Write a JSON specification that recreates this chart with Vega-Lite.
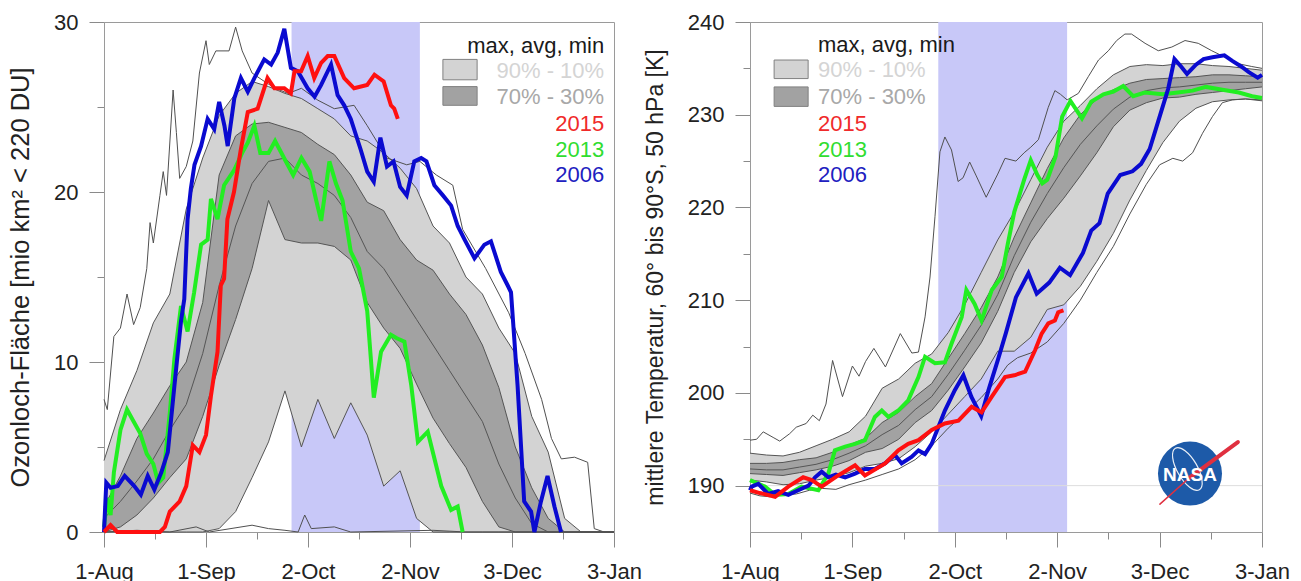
{
"$schema": "https://vega.github.io/schema/vega-lite/v6.json",
"background": "white",
"padding": {"left": 8, "top": 10, "right": 5, "bottom": 5},
"spacing": 0,
"config": {
  "font": "Liberation Sans",
  "view": {"stroke": "#9a9a9a", "strokeWidth": 1},
  "axis": {"domainColor": "#9a9a9a", "tickColor": "#8a8a8a", "labelColor": "#222222", "titleColor": "#222222", "labelFontSize": 22, "titleFontSize": 23, "titleFontWeight": "normal", "labelFont": "Liberation Sans", "titleFont": "Liberation Sans", "grid": false, "labelOverlap": false, "labelFlush": false}
},
"datasets": {
"ozBands": [
{"day":0,"p90":4.2,"p70":1.5,"avg":0.8,"p30":0,"p10":0},
{"day":5,"p90":7.2,"p70":3.3,"avg":1.8,"p30":0.3,"p10":0},
{"day":10,"p90":9.5,"p70":5.5,"avg":3.0,"p30":1.0,"p10":0},
{"day":15,"p90":12.3,"p70":7.0,"avg":4.3,"p30":2.0,"p10":0},
{"day":20,"p90":14.0,"p70":8.6,"avg":6.0,"p30":3.2,"p10":0},
{"day":25,"p90":19.0,"p70":10.0,"avg":7.5,"p30":4.3,"p10":0},
{"day":30,"p90":22.0,"p70":13.5,"avg":10.5,"p30":6.8,"p10":0},
{"day":35,"p90":24.5,"p70":21.0,"avg":14.5,"p30":9.8,"p10":0.2},
{"day":40,"p90":25.8,"p70":23.3,"avg":18.0,"p30":12.5,"p10":1.2},
{"day":45,"p90":26.5,"p70":24.0,"avg":20.5,"p30":15.5,"p10":3.2},
{"day":50,"p90":26.2,"p70":24.1,"avg":21.8,"p30":19.5,"p10":5.3},
{"day":55,"p90":25.8,"p70":23.8,"avg":22.0,"p30":17.2,"p10":8.3},
{"day":60,"p90":25.5,"p70":23.5,"avg":21.0,"p30":17.0,"p10":5.0},
{"day":65,"p90":24.9,"p70":22.8,"avg":20.5,"p30":17.0,"p10":7.8},
{"day":70,"p90":24.3,"p70":22.2,"avg":19.8,"p30":16.8,"p10":5.5},
{"day":75,"p90":23.3,"p70":21.0,"avg":18.5,"p30":16.0,"p10":7.6},
{"day":80,"p90":23.0,"p70":19.4,"avg":16.5,"p30":13.5,"p10":5.7},
{"day":85,"p90":22.3,"p70":18.9,"avg":15.5,"p30":12.0,"p10":2.7},
{"day":90,"p90":21.4,"p70":17.2,"avg":14.0,"p30":10.8,"p10":3.6},
{"day":95,"p90":20.2,"p70":16.0,"avg":12.5,"p30":8.7,"p10":0.8},
{"day":100,"p90":18.0,"p70":15.4,"avg":11.0,"p30":6.7,"p10":0},
{"day":105,"p90":17.0,"p70":14.0,"avg":9.5,"p30":5.2,"p10":0},
{"day":110,"p90":15.0,"p70":12.8,"avg":8.0,"p30":3.8,"p10":0},
{"day":115,"p90":14.0,"p70":11.0,"avg":6.5,"p30":1.8,"p10":0},
{"day":120,"p90":12.0,"p70":8.5,"avg":4.0,"p30":0.3,"p10":0},
{"day":125,"p90":10.5,"p70":5.0,"avg":2.0,"p30":0,"p10":0},
{"day":130,"p90":6.8,"p70":2.6,"avg":0.5,"p30":0,"p10":0},
{"day":135,"p90":4.7,"p70":0.8,"avg":0,"p30":0,"p10":0},
{"day":140,"p90":0.8,"p70":0,"avg":0,"p30":0,"p10":0},
{"day":145,"p90":0,"p70":0,"avg":0,"p30":0,"p10":0},
{"day":150,"p90":0,"p70":0,"avg":0,"p30":0,"p10":0},
{"day":155,"p90":0,"p70":0,"avg":0,"p30":0,"p10":0}
],
"ozLines": [
{"series":"max","day":0,"value":7.8},{"series":"max","day":1,"value":7.2},{"series":"max","day":3,"value":11.5},{"series":"max","day":5,"value":12},{"series":"max","day":7,"value":14},{"series":"max","day":9,"value":12.2},{"series":"max","day":11,"value":13.2},{"series":"max","day":13,"value":15.5},{"series":"max","day":14,"value":18.2},{"series":"max","day":15,"value":17},{"series":"max","day":17,"value":19.8},{"series":"max","day":18,"value":21.2},{"series":"max","day":19,"value":19.8},{"series":"max","day":21,"value":26},{"series":"max","day":22,"value":23.5},{"series":"max","day":23,"value":20.8},{"series":"max","day":25,"value":21.5},{"series":"max","day":27,"value":23},{"series":"max","day":29,"value":27},{"series":"max","day":31,"value":28.9},{"series":"max","day":32,"value":27.5},{"series":"max","day":34,"value":28.3},{"series":"max","day":38,"value":28.3},{"series":"max","day":40,"value":29.7},{"series":"max","day":42,"value":28.3},{"series":"max","day":45,"value":27},{"series":"max","day":48,"value":26.6},{"series":"max","day":52,"value":26.1},{"series":"max","day":56,"value":25.8},{"series":"max","day":60,"value":26.1},{"series":"max","day":65,"value":25.4},{"series":"max","day":70,"value":24.9},{"series":"max","day":76,"value":25.1},{"series":"max","day":80,"value":23.9},{"series":"max","day":86,"value":22},{"series":"max","day":92,"value":21.6},{"series":"max","day":96,"value":21.8},{"series":"max","day":101,"value":21},{"series":"max","day":106,"value":20.4},{"series":"max","day":109,"value":17.8},{"series":"max","day":116,"value":15.5},{"series":"max","day":123,"value":12.9},{"series":"max","day":128,"value":10.5},{"series":"max","day":133,"value":7.8},{"series":"max","day":136,"value":5.5},{"series":"max","day":139,"value":4.3},{"series":"max","day":143,"value":4.4},{"series":"max","day":147,"value":4.1},{"series":"max","day":149,"value":0.2},{"series":"max","day":152,"value":0},{"series":"max","day":155,"value":0},
{"series":"min","day":0,"value":0},{"series":"min","day":10,"value":0.1},{"series":"min","day":20,"value":0},{"series":"min","day":28,"value":0.3},{"series":"min","day":32,"value":0},{"series":"min","day":45,"value":0.4},{"series":"min","day":50,"value":0.2},{"series":"min","day":55,"value":0.1},{"series":"min","day":59,"value":0},{"series":"min","day":61,"value":1.0},{"series":"min","day":63,"value":0.2},{"series":"min","day":70,"value":0.3},{"series":"min","day":75,"value":0},{"series":"min","day":100,"value":0.1},{"series":"min","day":110,"value":0},{"series":"min","day":155,"value":0},
{"series":"2015","day":0,"value":0},{"series":"2015","day":2,"value":0.4},{"series":"2015","day":4,"value":0},{"series":"2015","day":17,"value":0},{"series":"2015","day":18.5,"value":0.3},{"series":"2015","day":20,"value":1.2},{"series":"2015","day":23,"value":1.8},{"series":"2015","day":25,"value":2.7},{"series":"2015","day":27,"value":5.1},{"series":"2015","day":29,"value":4.7},{"series":"2015","day":31,"value":5.7},{"series":"2015","day":32.5,"value":8},{"series":"2015","day":34.5,"value":10.6},{"series":"2015","day":35.5,"value":14.5},{"series":"2015","day":36.5,"value":14.9},{"series":"2015","day":37.5,"value":18.4},{"series":"2015","day":39.5,"value":20},{"series":"2015","day":41.5,"value":22.4},{"series":"2015","day":43.7,"value":24.7},{"series":"2015","day":46.7,"value":24.9},{"series":"2015","day":49.7,"value":26.7},{"series":"2015","day":51.8,"value":26.1},{"series":"2015","day":54.8,"value":26.1},{"series":"2015","day":56.8,"value":25.8},{"series":"2015","day":57.9,"value":27.1},{"series":"2015","day":59.9,"value":27.1},{"series":"2015","day":61.9,"value":28},{"series":"2015","day":63.9,"value":26.7},{"series":"2015","day":66,"value":27.6},{"series":"2015","day":68,"value":28},{"series":"2015","day":70,"value":28},{"series":"2015","day":73,"value":26.7},{"series":"2015","day":76,"value":26.1},{"series":"2015","day":80,"value":26.3},{"series":"2015","day":82.2,"value":26.9},{"series":"2015","day":85,"value":26.5},{"series":"2015","day":87.2,"value":25.1},{"series":"2015","day":88.2,"value":24.9},{"series":"2015","day":89.3,"value":24.3},
{"series":"2013","day":0,"value":0.3},{"series":"2013","day":1,"value":2},{"series":"2013","day":2,"value":1},{"series":"2013","day":3,"value":3.5},{"series":"2013","day":5,"value":6},{"series":"2013","day":7,"value":7.2},{"series":"2013","day":9,"value":6.5},{"series":"2013","day":11,"value":5.8},{"series":"2013","day":13,"value":4.6},{"series":"2013","day":15,"value":4},{"series":"2013","day":16.5,"value":2.9},{"series":"2013","day":18,"value":3.2},{"series":"2013","day":20,"value":7},{"series":"2013","day":21.4,"value":10.2},{"series":"2013","day":23.4,"value":13.3},{"series":"2013","day":25.4,"value":11.8},{"series":"2013","day":27.4,"value":14.1},{"series":"2013","day":29.5,"value":16.9},{"series":"2013","day":31.5,"value":17.2},{"series":"2013","day":32.5,"value":19.6},{"series":"2013","day":34.5,"value":18.4},{"series":"2013","day":36.5,"value":20.4},{"series":"2013","day":39.6,"value":21.3},{"series":"2013","day":42,"value":22.3},{"series":"2013","day":43.7,"value":22.9},{"series":"2013","day":45.7,"value":23.9},{"series":"2013","day":47.5,"value":22.3},{"series":"2013","day":50,"value":22.3},{"series":"2013","day":52,"value":23},{"series":"2013","day":55,"value":21.9},{"series":"2013","day":57.5,"value":21},{"series":"2013","day":60,"value":22},{"series":"2013","day":62.5,"value":21.2},{"series":"2013","day":64.5,"value":19.5},{"series":"2013","day":66,"value":18.3},{"series":"2013","day":68.5,"value":21.8},{"series":"2013","day":70.5,"value":20.5},{"series":"2013","day":72.5,"value":19.5},{"series":"2013","day":75,"value":16.5},{"series":"2013","day":77.5,"value":15.5},{"series":"2013","day":80,"value":13},{"series":"2013","day":82,"value":7.9},{"series":"2013","day":84.2,"value":10.6},{"series":"2013","day":87.2,"value":11.6},{"series":"2013","day":89,"value":11.4},{"series":"2013","day":91.3,"value":11.2},{"series":"2013","day":93.4,"value":8.6},{"series":"2013","day":95.4,"value":5.3},{"series":"2013","day":98.4,"value":5.9},{"series":"2013","day":102.5,"value":2.7},{"series":"2013","day":105.5,"value":1.3},{"series":"2013","day":107.5,"value":1.5},{"series":"2013","day":109,"value":0},
{"series":"2006","day":0,"value":0},{"series":"2006","day":0.7,"value":2.9},{"series":"2006","day":2,"value":2.6},{"series":"2006","day":4.2,"value":2.7},{"series":"2006","day":6.3,"value":3.3},{"series":"2006","day":9.2,"value":2.7},{"series":"2006","day":11.2,"value":2.2},{"series":"2006","day":13.3,"value":3.3},{"series":"2006","day":15.3,"value":2.5},{"series":"2006","day":17.4,"value":3.5},{"series":"2006","day":19.4,"value":4.7},{"series":"2006","day":21.4,"value":8.6},{"series":"2006","day":23.4,"value":12.4},{"series":"2006","day":24.4,"value":13.7},{"series":"2006","day":25.4,"value":18.4},{"series":"2006","day":26.4,"value":20.2},{"series":"2006","day":27.5,"value":21.6},{"series":"2006","day":29.5,"value":22.7},{"series":"2006","day":31.5,"value":24.3},{"series":"2006","day":33.5,"value":23.7},{"series":"2006","day":35,"value":25.3},{"series":"2006","day":36.6,"value":23.9},{"series":"2006","day":37.6,"value":22.7},{"series":"2006","day":39.6,"value":25.5},{"series":"2006","day":41.6,"value":26.7},{"series":"2006","day":43.7,"value":25.9},{"series":"2006","day":45.7,"value":26.7},{"series":"2006","day":48.7,"value":27.8},{"series":"2006","day":50.8,"value":27.5},{"series":"2006","day":52.8,"value":28.2},{"series":"2006","day":54.8,"value":29.6},{"series":"2006","day":56.8,"value":27.3},{"series":"2006","day":58.9,"value":27.1},{"series":"2006","day":61.9,"value":26.1},{"series":"2006","day":64,"value":25.6},{"series":"2006","day":66,"value":26.3},{"series":"2006","day":69,"value":27.5},{"series":"2006","day":71,"value":25.7},{"series":"2006","day":73,"value":25.1},{"series":"2006","day":75,"value":24.3},{"series":"2006","day":78,"value":22.5},{"series":"2006","day":80,"value":21.2},{"series":"2006","day":82,"value":20.6},{"series":"2006","day":84,"value":23.2},{"series":"2006","day":86,"value":21.5},{"series":"2006","day":88,"value":21.8},{"series":"2006","day":90,"value":20.3},{"series":"2006","day":92,"value":19.8},{"series":"2006","day":94.3,"value":21.8},{"series":"2006","day":96.4,"value":22},{"series":"2006","day":98,"value":21.8},{"series":"2006","day":100.4,"value":20.4},{"series":"2006","day":103,"value":19.8},{"series":"2006","day":105.5,"value":19.2},{"series":"2006","day":107.5,"value":18},{"series":"2006","day":109.6,"value":17.2},{"series":"2006","day":112.6,"value":16.1},{"series":"2006","day":115.6,"value":16.9},{"series":"2006","day":117.6,"value":17.1},{"series":"2006","day":120.6,"value":15.3},{"series":"2006","day":122.7,"value":14.5},{"series":"2006","day":123.7,"value":14.1},{"series":"2006","day":125.7,"value":8.6},{"series":"2006","day":127.7,"value":1.8},{"series":"2006","day":129.8,"value":1.2},{"series":"2006","day":130.8,"value":0},{"series":"2006","day":132.8,"value":1.8},{"series":"2006","day":134.8,"value":3.3},{"series":"2006","day":136.9,"value":1.5},{"series":"2006","day":138.9,"value":0}
],
"tBands": [
{"day":0,"p90":193.5,"p70":192.4,"avg":191.8,"p30":191.3,"p10":190.6},
{"day":5,"p90":193.3,"p70":192.4,"avg":191.7,"p30":191.2,"p10":190.4},
{"day":10,"p90":193.2,"p70":192.5,"avg":191.7,"p30":191.1,"p10":190.1},
{"day":15,"p90":193.6,"p70":192.8,"avg":192.0,"p30":191.4,"p10":190.2},
{"day":20,"p90":194.3,"p70":193.0,"avg":192.3,"p30":191.7,"p10":190.6},
{"day":25,"p90":195.0,"p70":193.6,"avg":192.8,"p30":192.1,"p10":190.9},
{"day":30,"p90":195.8,"p70":194.4,"avg":193.5,"p30":192.7,"p10":191.4},
{"day":35,"p90":197.5,"p70":195.1,"avg":194.3,"p30":193.6,"p10":192.1},
{"day":40,"p90":200.5,"p70":196.8,"avg":195.5,"p30":194.0,"p10":192.4},
{"day":45,"p90":201.5,"p70":197.9,"avg":196.5,"p30":195.0,"p10":192.9},
{"day":50,"p90":203.2,"p70":199.6,"avg":198.2,"p30":196.8,"p10":194.2},
{"day":55,"p90":204.2,"p70":201.0,"avg":199.6,"p30":198.1,"p10":195.8},
{"day":60,"p90":206.5,"p70":203.7,"avg":202.0,"p30":200.3,"p10":197.7},
{"day":65,"p90":209.5,"p70":206.4,"avg":204.6,"p30":202.8,"p10":199.6},
{"day":70,"p90":213.0,"p70":209.2,"avg":207.3,"p30":205.4,"p10":201.5},
{"day":75,"p90":216.5,"p70":212.5,"avg":210.6,"p30":208.8,"p10":204.5},
{"day":80,"p90":219.5,"p70":216.8,"avg":214.8,"p30":213.0,"p10":204.5},
{"day":85,"p90":223.0,"p70":220.5,"avg":218.4,"p30":216.3,"p10":206.0},
{"day":90,"p90":226.5,"p70":224.2,"avg":221.5,"p30":218.8,"p10":209.0},
{"day":95,"p90":229.3,"p70":227.5,"avg":224.3,"p30":221.0,"p10":209.5},
{"day":100,"p90":231.0,"p70":230.0,"avg":226.8,"p30":223.4,"p10":211.5},
{"day":105,"p90":232.8,"p70":231.7,"avg":228.8,"p30":225.9,"p10":214.2},
{"day":110,"p90":234.3,"p70":232.7,"avg":230.6,"p30":228.7,"p10":217.2},
{"day":115,"p90":235.2,"p70":233.4,"avg":231.9,"p30":230.5,"p10":220.8},
{"day":120,"p90":235.4,"p70":233.8,"avg":232.6,"p30":231.3,"p10":224.0},
{"day":125,"p90":235.3,"p70":233.9,"avg":232.9,"p30":231.8,"p10":227.0},
{"day":130,"p90":235.5,"p70":234.0,"avg":233.0,"p30":231.9,"p10":229.3},
{"day":135,"p90":235.5,"p70":234.1,"avg":233.2,"p30":232.2,"p10":230.7},
{"day":140,"p90":235.3,"p70":234.3,"avg":233.4,"p30":232.4,"p10":231.4},
{"day":145,"p90":235.2,"p70":234.3,"avg":233.5,"p30":232.6,"p10":231.6},
{"day":150,"p90":235.0,"p70":234.2,"avg":233.5,"p30":232.8,"p10":231.7},
{"day":155,"p90":234.8,"p70":234.1,"avg":233.5,"p30":233.0,"p10":231.6}
],
"tLines": [
{"series":"max","day":0,"value":194.9},{"series":"max","day":2,"value":195},{"series":"max","day":4,"value":195.8},{"series":"max","day":7,"value":195.2},{"series":"max","day":9,"value":194.8},{"series":"max","day":12,"value":195.6},{"series":"max","day":14,"value":196.3},{"series":"max","day":17,"value":196.7},{"series":"max","day":19,"value":197.6},{"series":"max","day":21,"value":197},{"series":"max","day":23,"value":198.8},{"series":"max","day":25,"value":203.5},{"series":"max","day":28,"value":199.6},{"series":"max","day":31,"value":202.9},{"series":"max","day":33,"value":201.8},{"series":"max","day":35,"value":203.4},{"series":"max","day":37.5,"value":204.8},{"series":"max","day":41,"value":202.8},{"series":"max","day":45.5,"value":206.4},{"series":"max","day":49,"value":204.3},{"series":"max","day":51,"value":204.4},{"series":"max","day":53,"value":208.2},{"series":"max","day":54.5,"value":212.5},{"series":"max","day":56,"value":219},{"series":"max","day":57.5,"value":226},{"series":"max","day":59,"value":227.6},{"series":"max","day":61,"value":226.2},{"series":"max","day":63,"value":222.8},{"series":"max","day":64.5,"value":223.2},{"series":"max","day":66.5,"value":224.9},{"series":"max","day":68.5,"value":223.4},{"series":"max","day":71.5,"value":221.1},{"series":"max","day":75,"value":223.6},{"series":"max","day":77.2,"value":225.3},{"series":"max","day":80.5,"value":225},{"series":"max","day":83,"value":225.9},{"series":"max","day":85,"value":226.5},{"series":"max","day":87.3,"value":227.3},{"series":"max","day":90.3,"value":230.8},{"series":"max","day":92.3,"value":232.6},{"series":"max","day":94,"value":232.2},{"series":"max","day":96,"value":231.6},{"series":"max","day":99.4,"value":232.3},{"series":"max","day":102.4,"value":234.1},{"series":"max","day":105.5,"value":235.9},{"series":"max","day":108.5,"value":236.9},{"series":"max","day":111,"value":238},{"series":"max","day":113.5,"value":238.7},{"series":"max","day":115.5,"value":238.7},{"series":"max","day":119.6,"value":237.7},{"series":"max","day":123.6,"value":236.9},{"series":"max","day":127.7,"value":237.3},{"series":"max","day":131.7,"value":238},{"series":"max","day":135.7,"value":237.7},{"series":"max","day":139.8,"value":236.9},{"series":"max","day":143.8,"value":236.2},{"series":"max","day":147.8,"value":235.5},{"series":"max","day":151.9,"value":235.2},{"series":"max","day":155,"value":235},
{"series":"min","day":0,"value":189.2},{"series":"min","day":3,"value":188.9},{"series":"min","day":6,"value":188.8},{"series":"min","day":10,"value":189},{"series":"min","day":14,"value":189.1},{"series":"min","day":18,"value":189.5},{"series":"min","day":22,"value":189.7},{"series":"min","day":26,"value":189.6},{"series":"min","day":30,"value":190.1},{"series":"min","day":35,"value":190.6},{"series":"min","day":40,"value":191.2},{"series":"min","day":45,"value":191.8},{"series":"min","day":50,"value":192.8},{"series":"min","day":55,"value":194.3},{"series":"min","day":60,"value":196.2},{"series":"min","day":65,"value":197.8},{"series":"min","day":70,"value":199.5},{"series":"min","day":75,"value":201.5},{"series":"min","day":78,"value":203},{"series":"min","day":81,"value":203.8},{"series":"min","day":85,"value":204.3},{"series":"min","day":90,"value":205.5},{"series":"min","day":95,"value":207.5},{"series":"min","day":100,"value":210},{"series":"min","day":105,"value":213},{"series":"min","day":110,"value":215.8},{"series":"min","day":115,"value":219.3},{"series":"min","day":120,"value":222.5},{"series":"min","day":124,"value":224.6},{"series":"min","day":128,"value":225.3},{"series":"min","day":131,"value":225},{"series":"min","day":134,"value":225.9},{"series":"min","day":137,"value":228},{"series":"min","day":140,"value":229.8},{"series":"min","day":143,"value":231.3},{"series":"min","day":146,"value":231.6},{"series":"min","day":150,"value":231.7},{"series":"min","day":155,"value":231.5},
{"series":"2015","day":0,"value":189.5},{"series":"2015","day":3,"value":189.2},{"series":"2015","day":7.6,"value":188.8},{"series":"2015","day":11.6,"value":189.9},{"series":"2015","day":16.1,"value":190.9},{"series":"2015","day":18.7,"value":190.6},{"series":"2015","day":21.7,"value":189.9},{"series":"2015","day":26.7,"value":191.1},{"series":"2015","day":31.8,"value":192.2},{"series":"2015","day":34.8,"value":191.1},{"series":"2015","day":40.9,"value":192.4},{"series":"2015","day":44.9,"value":193.8},{"series":"2015","day":47.9,"value":194.5},{"series":"2015","day":51,"value":194.9},{"series":"2015","day":55,"value":196},{"series":"2015","day":59,"value":196.7},{"series":"2015","day":63.1,"value":197},{"series":"2015","day":67.1,"value":198.5},{"series":"2015","day":70.1,"value":197.9},{"series":"2015","day":73.2,"value":199.6},{"series":"2015","day":77.2,"value":201.7},{"series":"2015","day":80,"value":201.9},{"series":"2015","day":83.3,"value":202.3},{"series":"2015","day":86.3,"value":204.6},{"series":"2015","day":88.3,"value":206.4},{"series":"2015","day":90.3,"value":207.5},{"series":"2015","day":92.3,"value":207.8},{"series":"2015","day":93.3,"value":208.7},{"series":"2015","day":94.9,"value":208.9},
{"series":"2013","day":0,"value":190.6},{"series":"2013","day":4.5,"value":189.9},{"series":"2013","day":7.6,"value":189},{"series":"2013","day":11.6,"value":189.1},{"series":"2013","day":15.6,"value":189.9},{"series":"2013","day":20.7,"value":189.5},{"series":"2013","day":23.7,"value":191.3},{"series":"2013","day":25.7,"value":193.8},{"series":"2013","day":28.8,"value":194.2},{"series":"2013","day":31.8,"value":194.5},{"series":"2013","day":34.8,"value":194.9},{"series":"2013","day":37.8,"value":197.4},{"series":"2013","day":39.9,"value":198.1},{"series":"2013","day":41.9,"value":197.4},{"series":"2013","day":44.9,"value":198.1},{"series":"2013","day":47.9,"value":199.2},{"series":"2013","day":51,"value":201.7},{"series":"2013","day":53,"value":203.9},{"series":"2013","day":56,"value":203.2},{"series":"2013","day":59,"value":203.3},{"series":"2013","day":61,"value":205.3},{"series":"2013","day":64.1,"value":208.2},{"series":"2013","day":65.5,"value":211.1},{"series":"2013","day":68,"value":209.6},{"series":"2013","day":70.1,"value":207.8},{"series":"2013","day":73.2,"value":211.1},{"series":"2013","day":76.2,"value":212.5},{"series":"2013","day":78,"value":216},{"series":"2013","day":80,"value":219.5},{"series":"2013","day":83,"value":223},{"series":"2013","day":85,"value":225.1},{"series":"2013","day":87,"value":223.5},{"series":"2013","day":88.5,"value":222.6},{"series":"2013","day":90,"value":223},{"series":"2013","day":92.5,"value":225.5},{"series":"2013","day":94.5,"value":229.8},{"series":"2013","day":97,"value":231.5},{"series":"2013","day":100.5,"value":229.6},{"series":"2013","day":103.3,"value":231.4},{"series":"2013","day":107,"value":232.2},{"series":"2013","day":110,"value":232.5},{"series":"2013","day":113,"value":233.1},{"series":"2013","day":116,"value":232},{"series":"2013","day":119.5,"value":232.4},{"series":"2013","day":125,"value":232.2},{"series":"2013","day":129.5,"value":232.4},{"series":"2013","day":134,"value":232.6},{"series":"2013","day":138,"value":233},{"series":"2013","day":143,"value":232.7},{"series":"2013","day":148,"value":232.4},{"series":"2013","day":152,"value":232},{"series":"2013","day":155,"value":231.8},
{"series":"2006","day":0,"value":189.5},{"series":"2006","day":0.5,"value":189.9},{"series":"2006","day":2.5,"value":190.2},{"series":"2006","day":5.5,"value":189.1},{"series":"2006","day":8.5,"value":189.4},{"series":"2006","day":11.6,"value":189},{"series":"2006","day":14.6,"value":189.5},{"series":"2006","day":17.7,"value":190},{"series":"2006","day":19.7,"value":190.9},{"series":"2006","day":21.7,"value":191.5},{"series":"2006","day":23.7,"value":190.9},{"series":"2006","day":26,"value":191.2},{"series":"2006","day":28.8,"value":190.9},{"series":"2006","day":31.8,"value":191.3},{"series":"2006","day":34.8,"value":191.8},{"series":"2006","day":37.8,"value":191.8},{"series":"2006","day":40.9,"value":192.4},{"series":"2006","day":43.9,"value":193.3},{"series":"2006","day":45.9,"value":192.4},{"series":"2006","day":48.9,"value":193.1},{"series":"2006","day":51,"value":193.8},{"series":"2006","day":53,"value":193.4},{"series":"2006","day":55,"value":194.5},{"series":"2006","day":57,"value":196.3},{"series":"2006","day":59,"value":198.1},{"series":"2006","day":62,"value":200.3},{"series":"2006","day":64.6,"value":201.9},{"series":"2006","day":67,"value":199.6},{"series":"2006","day":70,"value":197.5},{"series":"2006","day":72.2,"value":200.3},{"series":"2006","day":75,"value":203.5},{"series":"2006","day":77.5,"value":206.5},{"series":"2006","day":80.5,"value":210.3},{"series":"2006","day":84.3,"value":212.9},{"series":"2006","day":86.8,"value":210.7},{"series":"2006","day":90.6,"value":211.9},{"series":"2006","day":93.8,"value":213.5},{"series":"2006","day":96.9,"value":212.7},{"series":"2006","day":100.8,"value":215.1},{"series":"2006","day":103.3,"value":217.5},{"series":"2006","day":105.8,"value":218.3},{"series":"2006","day":108.3,"value":221.5},{"series":"2006","day":112.1,"value":223.5},{"series":"2006","day":115.8,"value":223.9},{"series":"2006","day":118.4,"value":224.7},{"series":"2006","day":121,"value":226.3},{"series":"2006","day":123.5,"value":229.2},{"series":"2006","day":126.6,"value":232.8},{"series":"2006","day":128.5,"value":236},{"series":"2006","day":130.5,"value":235.2},{"series":"2006","day":132.3,"value":234.4},{"series":"2006","day":135,"value":235.4},{"series":"2006","day":137.3,"value":236},{"series":"2006","day":140,"value":236.2},{"series":"2006","day":143.6,"value":236.4},{"series":"2006","day":146,"value":235.8},{"series":"2006","day":148.7,"value":235.2},{"series":"2006","day":151,"value":234.6},{"series":"2006","day":153.7,"value":234},{"series":"2006","day":155,"value":234.3}
]
},
"hconcat": [
{
 "width": 510, "height": 510,
 "layer": [
  {"data": {"values": [{}]}, "mark": {"type": "rect", "color": "#c8c8f8"}, "encoding": {"x": {"datum": 57, "type": "quantitative"}, "x2": {"datum": 96}, "y": {"datum": 0, "type": "quantitative"}, "y2": {"datum": 30}}},
  {"data": {"name": "ozBands"}, "mark": {"type": "area", "color": "#d3d3d3", "opacity": 1}, "encoding": {
    "x": {"field": "day", "type": "quantitative", "scale": {"domain": [0, 155], "nice": false, "zero": false},
     "axis": {"title": null, "values": [0, 15.5, 31, 46.5, 62, 77.5, 93, 108.5, 124, 139.5, 155],
       "labelExpr": "datum.value==0?'1-Aug':datum.value==31?'1-Sep':datum.value==62?'2-Oct':datum.value==93?'2-Nov':datum.value==124?'3-Dec':datum.value==155?'3-Jan':''",
       "tickSize": {"condition": {"test": "datum.value % 31 == 0", "value": 15}, "value": 7}, "labelPadding": 14}},
    "y": {"field": "p90", "type": "quantitative", "scale": {"domain": [0, 30], "nice": false, "zero": false},
     "axis": {"title": "Ozonloch-Fläche [mio km² < 220 DU]", "titleFontSize": 25.5, "values": [0, 5, 10, 15, 20, 25, 30],
       "labelExpr": "datum.value % 10 == 0 ? datum.label : ''",
       "tickSize": {"condition": {"test": "datum.value % 10 == 0", "value": 15}, "value": 7}, "labelPadding": 11, "titlePadding": 20}},
    "y2": {"field": "p10"}}},
  {"data": {"name": "ozBands"}, "mark": {"type": "area", "color": "#a2a2a2", "opacity": 1}, "encoding": {"x": {"field": "day", "type": "quantitative"}, "y": {"field": "p70", "type": "quantitative"}, "y2": {"field": "p30"}}},
  {"data": {"name": "ozBands"}, "transform": [{"fold": ["p90", "p70", "avg", "p30", "p10"], "as": ["series", "value"]}], "mark": {"type": "line", "color": "#555555", "strokeWidth": 1}, "encoding": {"x": {"field": "day", "type": "quantitative"}, "y": {"field": "value", "type": "quantitative"}, "detail": {"field": "series"}}},
  {"data": {"name": "ozLines"}, "transform": [{"filter": "datum.series=='max'||datum.series=='min'"}], "mark": {"type": "line", "color": "#505050", "strokeWidth": 1}, "encoding": {"x": {"field": "day", "type": "quantitative"}, "y": {"field": "value", "type": "quantitative"}, "detail": {"field": "series"}}},
  {"data": {"name": "ozLines"}, "transform": [{"filter": "datum.series=='2013'"}], "mark": {"type": "line", "color": "#22ee22", "strokeWidth": 4}, "encoding": {"x": {"field": "day", "type": "quantitative"}, "y": {"field": "value", "type": "quantitative"}}},
  {"data": {"name": "ozLines"}, "transform": [{"filter": "datum.series=='2006'"}], "mark": {"type": "line", "color": "#0a0ad0", "strokeWidth": 4}, "encoding": {"x": {"field": "day", "type": "quantitative"}, "y": {"field": "value", "type": "quantitative"}}},
  {"data": {"name": "ozLines"}, "transform": [{"filter": "datum.series=='2015'"}], "mark": {"type": "line", "color": "#ff1010", "strokeWidth": 4}, "encoding": {"x": {"field": "day", "type": "quantitative"}, "y": {"field": "value", "type": "quantitative"}}},
  {"data": {"values": [{}]}, "mark": {"type": "rect", "color": "#d3d3d3", "stroke": "#808080", "strokeWidth": 1}, "encoding": {"x": {"datum": 103, "type": "quantitative"}, "x2": {"datum": 113.4}, "y": {"datum": 27.8, "type": "quantitative"}, "y2": {"datum": 26.6}}},
  {"data": {"values": [{}]}, "mark": {"type": "rect", "color": "#a2a2a2", "stroke": "#808080", "strokeWidth": 1}, "encoding": {"x": {"datum": 103, "type": "quantitative"}, "x2": {"datum": 113.4}, "y": {"datum": 26.2, "type": "quantitative"}, "y2": {"datum": 25.1}}},
  {"data": {"values": [{}]}, "mark": {"type": "text", "text": "max, avg, min", "align": "right", "baseline": "middle", "fontSize": 22, "color": "#1a1a1a"}, "encoding": {"x": {"datum": 152, "type": "quantitative"}, "y": {"datum": 28.6, "type": "quantitative"}}},
  {"data": {"values": [{}]}, "mark": {"type": "text", "text": "90% - 10%", "align": "right", "baseline": "middle", "fontSize": 22, "color": "#d4d4d4"}, "encoding": {"x": {"datum": 152, "type": "quantitative"}, "y": {"datum": 27.1, "type": "quantitative"}}},
  {"data": {"values": [{}]}, "mark": {"type": "text", "text": "70% - 30%", "align": "right", "baseline": "middle", "fontSize": 22, "color": "#a8a8a8"}, "encoding": {"x": {"datum": 152, "type": "quantitative"}, "y": {"datum": 25.6, "type": "quantitative"}}},
  {"data": {"values": [{}]}, "mark": {"type": "text", "text": "2015", "align": "right", "baseline": "middle", "fontSize": 22, "color": "#f02a2a"}, "encoding": {"x": {"datum": 152, "type": "quantitative"}, "y": {"datum": 24.0, "type": "quantitative"}}},
  {"data": {"values": [{}]}, "mark": {"type": "text", "text": "2013", "align": "right", "baseline": "middle", "fontSize": 22, "color": "#30dd30"}, "encoding": {"x": {"datum": 152, "type": "quantitative"}, "y": {"datum": 22.5, "type": "quantitative"}}},
  {"data": {"values": [{}]}, "mark": {"type": "text", "text": "2006", "align": "right", "baseline": "middle", "fontSize": 22, "color": "#2020c0"}, "encoding": {"x": {"datum": 152, "type": "quantitative"}, "y": {"datum": 21.0, "type": "quantitative"}}}
 ]
},
{
 "width": 512, "height": 510,
 "layer": [
  {"data": {"values": [{}]}, "mark": {"type": "rect", "color": "#c8c8f8"}, "encoding": {"x": {"datum": 57, "type": "quantitative"}, "x2": {"datum": 96}, "y": {"datum": 185, "type": "quantitative"}, "y2": {"datum": 240}}},
  {"data": {"values": [{}]}, "mark": {"type": "rule", "color": "#dddddd", "strokeWidth": 1}, "encoding": {"x": {"datum": 0, "type": "quantitative"}, "x2": {"datum": 155}, "y": {"datum": 190, "type": "quantitative"}}},
  {"data": {"name": "tBands"}, "mark": {"type": "area", "color": "#d3d3d3", "opacity": 1}, "encoding": {
    "x": {"field": "day", "type": "quantitative", "scale": {"domain": [0, 155], "nice": false, "zero": false},
     "axis": {"title": null, "values": [0, 15.5, 31, 46.5, 62, 77.5, 93, 108.5, 124, 139.5, 155],
       "labelExpr": "datum.value==0?'1-Aug':datum.value==31?'1-Sep':datum.value==62?'2-Oct':datum.value==93?'2-Nov':datum.value==124?'3-Dec':datum.value==155?'3-Jan':''",
       "tickSize": {"condition": {"test": "datum.value % 31 == 0", "value": 15}, "value": 7}, "labelPadding": 14}},
    "y": {"field": "p90", "type": "quantitative", "scale": {"domain": [185, 240], "nice": false, "zero": false},
     "axis": {"title": "mittlere Temperatur, 60° bis 90°S, 50 hPa [K]", "values": [190, 195, 200, 205, 210, 215, 220, 225, 230, 235, 240],
       "labelExpr": "datum.value % 10 == 0 ? datum.label : ''",
       "tickSize": {"condition": {"test": "datum.value % 10 == 0", "value": 15}, "value": 7}, "labelPadding": 11, "titlePadding": 20}},
    "y2": {"field": "p10"}}},
  {"data": {"name": "tBands"}, "mark": {"type": "area", "color": "#a2a2a2", "opacity": 1}, "encoding": {"x": {"field": "day", "type": "quantitative"}, "y": {"field": "p70", "type": "quantitative"}, "y2": {"field": "p30"}}},
  {"data": {"name": "tBands"}, "transform": [{"fold": ["p90", "p70", "avg", "p30", "p10"], "as": ["series", "value"]}], "mark": {"type": "line", "color": "#555555", "strokeWidth": 1}, "encoding": {"x": {"field": "day", "type": "quantitative"}, "y": {"field": "value", "type": "quantitative"}, "detail": {"field": "series"}}},
  {"data": {"name": "tLines"}, "transform": [{"filter": "datum.series=='max'||datum.series=='min'"}], "mark": {"type": "line", "color": "#505050", "strokeWidth": 1}, "encoding": {"x": {"field": "day", "type": "quantitative"}, "y": {"field": "value", "type": "quantitative"}, "detail": {"field": "series"}}},
  {"data": {"name": "tLines"}, "transform": [{"filter": "datum.series=='2013'"}], "mark": {"type": "line", "color": "#22ee22", "strokeWidth": 4}, "encoding": {"x": {"field": "day", "type": "quantitative"}, "y": {"field": "value", "type": "quantitative"}}},
  {"data": {"name": "tLines"}, "transform": [{"filter": "datum.series=='2006'"}], "mark": {"type": "line", "color": "#0a0ad0", "strokeWidth": 4}, "encoding": {"x": {"field": "day", "type": "quantitative"}, "y": {"field": "value", "type": "quantitative"}}},
  {"data": {"name": "tLines"}, "transform": [{"filter": "datum.series=='2015'"}], "mark": {"type": "line", "color": "#ff1010", "strokeWidth": 4}, "encoding": {"x": {"field": "day", "type": "quantitative"}, "y": {"field": "value", "type": "quantitative"}}},
  {"data": {"values": [{}]}, "mark": {"type": "rect", "color": "#d3d3d3", "stroke": "#808080", "strokeWidth": 1}, "encoding": {"x": {"datum": 7.3, "type": "quantitative"}, "x2": {"datum": 17.6}, "y": {"datum": 235.9, "type": "quantitative"}, "y2": {"datum": 233.9}}},
  {"data": {"values": [{}]}, "mark": {"type": "rect", "color": "#a2a2a2", "stroke": "#808080", "strokeWidth": 1}, "encoding": {"x": {"datum": 7.3, "type": "quantitative"}, "x2": {"datum": 17.6}, "y": {"datum": 233.0, "type": "quantitative"}, "y2": {"datum": 230.9}}},
  {"data": {"values": [{}]}, "mark": {"type": "text", "text": "max, avg, min", "align": "left", "baseline": "middle", "fontSize": 22, "color": "#1a1a1a"}, "encoding": {"x": {"datum": 20.6, "type": "quantitative"}, "y": {"datum": 237.5, "type": "quantitative"}}},
  {"data": {"values": [{}]}, "mark": {"type": "text", "text": "90% - 10%", "align": "left", "baseline": "middle", "fontSize": 22, "color": "#d4d4d4"}, "encoding": {"x": {"datum": 20.6, "type": "quantitative"}, "y": {"datum": 234.8, "type": "quantitative"}}},
  {"data": {"values": [{}]}, "mark": {"type": "text", "text": "70% - 30%", "align": "left", "baseline": "middle", "fontSize": 22, "color": "#a8a8a8"}, "encoding": {"x": {"datum": 20.6, "type": "quantitative"}, "y": {"datum": 231.9, "type": "quantitative"}}},
  {"data": {"values": [{}]}, "mark": {"type": "text", "text": "2015", "align": "left", "baseline": "middle", "fontSize": 22, "color": "#f02a2a"}, "encoding": {"x": {"datum": 20.6, "type": "quantitative"}, "y": {"datum": 229.0, "type": "quantitative"}}},
  {"data": {"values": [{}]}, "mark": {"type": "text", "text": "2013", "align": "left", "baseline": "middle", "fontSize": 22, "color": "#30dd30"}, "encoding": {"x": {"datum": 20.6, "type": "quantitative"}, "y": {"datum": 226.2, "type": "quantitative"}}},
  {"data": {"values": [{}]}, "mark": {"type": "text", "text": "2006", "align": "left", "baseline": "middle", "fontSize": 22, "color": "#2020c0"}, "encoding": {"x": {"datum": 20.6, "type": "quantitative"}, "y": {"datum": 223.5, "type": "quantitative"}}},
  {"data": {"values": [{}]}, "mark": {"type": "point", "shape": "circle", "filled": true, "size": 4100, "color": "#1d5aa8", "opacity": 1}, "encoding": {"x": {"datum": 133.2, "type": "quantitative"}, "y": {"datum": 191.3, "type": "quantitative"}}},
  {"data": {"values": [{}]}, "mark": {"type": "point", "shape": "M-1,0A1,0.42 0 1,0 1,0A1,0.42 0 1,0 -1,0Z", "filled": false, "size": 2300, "angle": 60, "color": "white", "strokeWidth": 1.2, "opacity": 0.9}, "encoding": {"x": {"datum": 132.4, "type": "quantitative"}, "y": {"datum": 191.8, "type": "quantitative"}}},
  {"data": {"values": [{}]}, "mark": {"type": "rule", "color": "#e03040", "strokeWidth": 1.5, "strokeCap": "round"}, "encoding": {"x": {"datum": 124.1, "type": "quantitative"}, "x2": {"datum": 133.2}, "y": {"datum": 188.0, "type": "quantitative"}, "y2": {"datum": 190.9}}},
  {"data": {"values": [{}]}, "mark": {"type": "rule", "color": "#e03040", "strokeWidth": 4, "strokeCap": "round"}, "encoding": {"x": {"datum": 133.2, "type": "quantitative"}, "x2": {"datum": 147.7}, "y": {"datum": 190.9, "type": "quantitative"}, "y2": {"datum": 194.7}}},
  {"data": {"values": [{}]}, "mark": {"type": "text", "text": "NASA", "align": "center", "baseline": "middle", "fontSize": 19, "fontWeight": "bold", "color": "white"}, "encoding": {"x": {"datum": 133.2, "type": "quantitative"}, "y": {"datum": 191.2, "type": "quantitative"}}}
 ]
}
]
}
